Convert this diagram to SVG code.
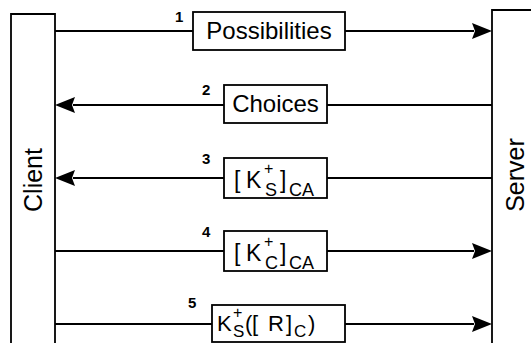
<svg xmlns="http://www.w3.org/2000/svg" width="531" height="343" viewBox="0 0 531 343">
<style>
.box{fill:#fff;stroke:#000;stroke-width:1.8}
.ln{stroke:#000;stroke-width:2.2;fill:none}
.ah{fill:#000}
text{font-family:"Liberation Sans",Arial,sans-serif;fill:#000}
.lbl{font-size:23px}
.big{font-size:25px}
.num{font-size:15px;font-weight:bold}
.sup{font-size:16px}
.sub{font-size:18px}
.sub5{font-size:17px}
</style>
<rect width="531" height="343" fill="#fff"/>
<g id="client">
<path class="box" d="M11,345 V14 H55 V345"/>
<text class="big" transform="translate(42,180) rotate(-90)" text-anchor="middle">Client</text>
</g>
<g id="server">
<path class="box" d="M533,10 H492 V345"/>
<text class="big" transform="translate(524,175) rotate(-90)" text-anchor="middle">Server</text>
</g>
<g id="connectors">
<line class="ln" x1="55" y1="31" x2="193" y2="31"/>
<line class="ln" x1="345" y1="31" x2="474" y2="31"/>
<polygon class="ah" points="492,31 472,23 475,31 472,39"/>
<line class="ln" x1="73" y1="105" x2="224" y2="105"/>
<line class="ln" x1="327" y1="105" x2="492" y2="105"/>
<polygon class="ah" points="55,105 75,97 72,105 75,113"/>
<line class="ln" x1="73" y1="178" x2="224" y2="178"/>
<line class="ln" x1="327" y1="178" x2="492" y2="178"/>
<polygon class="ah" points="55,178 75,170 72,178 75,186"/>
<line class="ln" x1="55" y1="251" x2="224" y2="251"/>
<line class="ln" x1="327" y1="251" x2="474" y2="251"/>
<polygon class="ah" points="492,251 472,243 475,251 472,259"/>
<line class="ln" x1="55" y1="324" x2="212" y2="324"/>
<line class="ln" x1="345" y1="324" x2="474" y2="324"/>
<polygon class="ah" points="492,324 472,316 475,324 472,332"/>
</g>
<g id="msg1">
<text class="num" x="175" y="22">1</text>
<rect class="box" x="193" y="12" width="152" height="38"/>
<text class="lbl" x="269" y="39" text-anchor="middle" style="font-size:24px">Possibilities</text>
</g>
<g id="msg2">
<text class="num" x="202" y="95">2</text>
<rect class="box" x="224" y="85" width="103" height="38"/>
<text class="lbl" x="275.5" y="112" text-anchor="middle" style="font-size:24px">Choices</text>
</g>
<g id="msg3">
<text class="num" x="202" y="164">3</text>
<rect class="box" x="224" y="158" width="103" height="40"/>
<text class="lbl"><tspan x="234" y="188">[</tspan><tspan x="246" y="188">K</tspan><tspan class="sup" x="264" y="174">+</tspan><tspan class="sub" x="265" y="196">S</tspan><tspan x="280" y="188">]</tspan><tspan class="sub" x="289" y="196">CA</tspan></text>
</g>
<g id="msg4">
<text class="num" x="202" y="237">4</text>
<rect class="box" x="224" y="231" width="103" height="40"/>
<text class="lbl"><tspan x="234" y="261">[</tspan><tspan x="246" y="261">K</tspan><tspan class="sup" x="264" y="247">+</tspan><tspan class="sub" x="265" y="269">C</tspan><tspan x="280" y="261">]</tspan><tspan class="sub" x="289" y="269">CA</tspan></text>
</g>
<g id="msg5">
<text class="num" x="188" y="308">5</text>
<rect class="box" x="212" y="305" width="133" height="37"/>
<text class="lbl" style="font-size:22px"><tspan x="217" y="331">K</tspan><tspan class="sup" x="233" y="318">+</tspan><tspan class="sub5" x="233" y="337">S</tspan><tspan x="245" y="331">(</tspan><tspan x="252" y="331">[</tspan><tspan x="268" y="331">R</tspan><tspan x="286" y="331">]</tspan><tspan class="sub5" x="294" y="337">C</tspan><tspan x="308" y="331">)</tspan></text>
</g>
</svg>
